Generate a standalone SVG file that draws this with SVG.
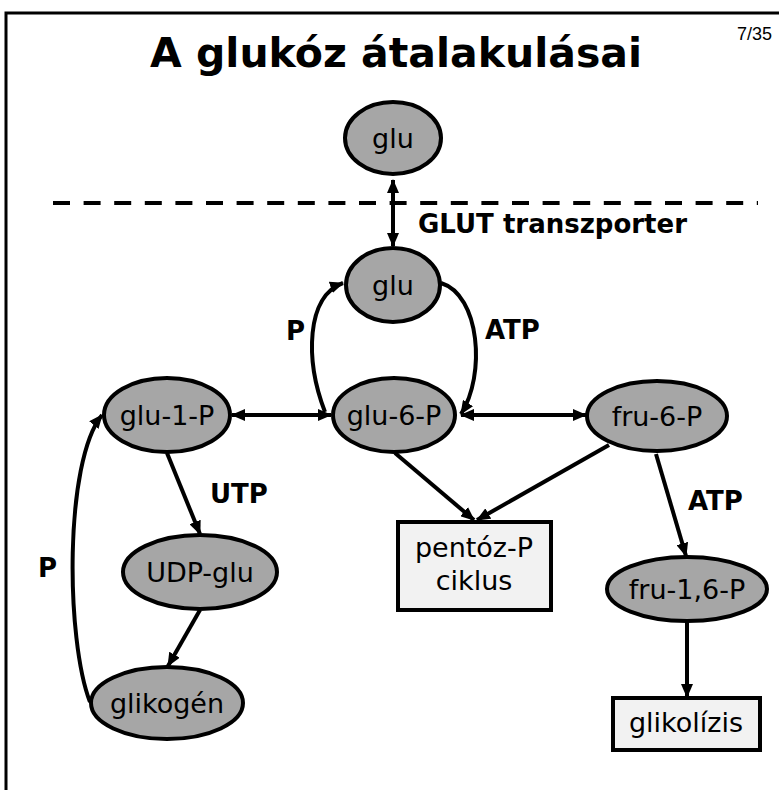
<svg xmlns="http://www.w3.org/2000/svg" width="779" height="790" viewBox="0 0 779 790">
  <defs>
    <style>
      .frame { fill: none; stroke: #000; stroke-width: 3; }
      .title { font-family: "DejaVu Sans", "Liberation Sans", sans-serif; font-weight: bold; font-size: 41px; fill: #000; }
      .page { font-family: "Liberation Sans", sans-serif; font-size: 18px; fill: #000; }
      .node { fill: #a6a6a6; stroke: #000; stroke-width: 4; }
      .box { fill: #f2f2f2; stroke: #000; stroke-width: 4; }
      .label { font-family: "DejaVu Sans", "Liberation Sans", sans-serif; font-size: 27px; fill: #000; text-anchor: middle; }
      .note { font-family: "DejaVu Sans", "Liberation Sans", sans-serif; font-weight: bold; font-size: 26px; fill: #000; }
      .edge { fill: none; stroke: #000; stroke-width: 4; }
      .arrow { marker-end: url(#head); }
      .both { marker-start: url(#head); marker-end: url(#head); }
      .membrane { fill: none; stroke: #000; stroke-width: 4; stroke-dasharray: 17 13.6; }
    </style>
    <marker id="head" markerUnits="userSpaceOnUse" markerWidth="14" markerHeight="12" refX="13" refY="6" orient="auto-start-reverse">
      <path d="M0,0 L14,6 L0,12 Z" fill="#000"/>
    </marker>
  </defs>

  <rect class="frame" x="6" y="13" width="800" height="800"/>

  <text class="title" x="396" y="67" text-anchor="middle">A glukóz átalakulásai</text>
  <text class="page" x="737" y="40">7/35</text>

  <!-- cell membrane -->
  <line class="membrane" x1="53" y1="203" x2="758" y2="203"/>

  <g id="connectors">
    <line class="edge both" x1="393" y1="180" x2="393" y2="246"/>
    <path class="edge arrow" d="M325,412 C305,360 306,296 343,283"/>
    <path class="edge arrow" d="M441,283 C480,295 486,375 461,414"/>
    <line class="edge both" x1="232" y1="415" x2="331" y2="415"/>
    <line class="edge both" x1="461" y1="415" x2="586" y2="415"/>
    <line class="edge arrow" x1="395" y1="453" x2="474" y2="520"/>
    <line class="edge arrow" x1="609" y1="445" x2="477" y2="520"/>
    <line class="edge arrow" x1="656" y1="454" x2="686" y2="556"/>
    <line class="edge arrow" x1="687" y1="621" x2="687" y2="697"/>
    <line class="edge arrow" x1="167" y1="453" x2="200" y2="534"/>
    <line class="edge arrow" x1="200" y1="610" x2="168" y2="666"/>
    <path class="edge arrow" d="M90,702 C66,640 64,462 102,415"/>
  </g>

  <g id="labels">
    <text class="note" x="418" y="233">GLUT transzporter</text>
    <text class="note" x="286" y="340">P</text>
    <text class="note" x="485" y="339">ATP</text>
    <text class="note" x="210" y="503">UTP</text>
    <text class="note" x="688" y="510">ATP</text>
    <text class="note" x="38" y="577">P</text>
  </g>

  <g id="glu-out">
    <ellipse class="node" cx="393" cy="138" rx="48" ry="36"/>
    <text class="label" x="393" y="148">glu</text>
  </g>
  <g id="glu-in">
    <ellipse class="node" cx="393" cy="285" rx="47" ry="37"/>
    <text class="label" x="393" y="295">glu</text>
  </g>
  <g id="glu-6-P">
    <ellipse class="node" cx="394" cy="415" rx="61" ry="37"/>
    <text class="label" x="394" y="425">glu-6-P</text>
  </g>
  <g id="glu-1-P">
    <ellipse class="node" cx="167" cy="415" rx="63" ry="37"/>
    <text class="label" x="167" y="425">glu-1-P</text>
  </g>
  <g id="fru-6-P">
    <ellipse class="node" cx="657" cy="416" rx="70" ry="35"/>
    <text class="label" x="657" y="426">fru-6-P</text>
  </g>
  <g id="fru-1-6-P">
    <ellipse class="node" cx="687" cy="589" rx="80" ry="32"/>
    <text class="label" x="687" y="599">fru-1,6-P</text>
  </g>
  <g id="UDP-glu">
    <ellipse class="node" cx="200" cy="572" rx="77" ry="37"/>
    <text class="label" x="200" y="582">UDP-glu</text>
  </g>
  <g id="glikogen">
    <ellipse class="node" cx="167" cy="703" rx="76" ry="36"/>
    <text class="label" x="167" y="713">glikogén</text>
  </g>
  <g id="pentoz-P">
    <rect class="box" x="398" y="522" width="153" height="88"/>
    <text class="label" x="474" y="557">pentóz-P</text>
    <text class="label" x="474" y="590">ciklus</text>
  </g>
  <g id="glikolizis">
    <rect class="box" x="613" y="698" width="147" height="52"/>
    <text class="label" x="686" y="732">glikolízis</text>
  </g>
</svg>
